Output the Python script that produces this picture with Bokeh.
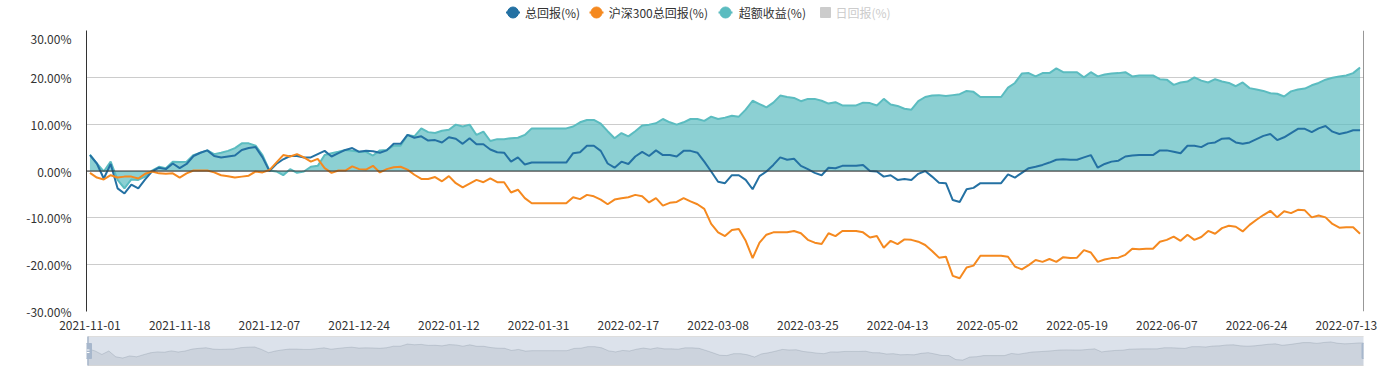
import pandas as pd
from bokeh.plotting import figure
from bokeh.layouts import column
from bokeh.models import Range1d, FixedTicker, PrintfTickFormatter, Span
from bokeh.core.properties import value
from bokeh.embed import file_html
from bokeh.resources import INLINE

# ---------------- data ----------------
dates = [d.strftime("%Y-%m-%d") for d in pd.bdate_range("2021-11-01", periods=185)]

total_return = [
    3.4, 1.6, -1.6, 1.5, -3.7, -4.8, -2.9, -3.7, -1.8, -0.1,
    0.7, 0.4, 1.6, 0.6, 1.5, 3.2, 3.9, 4.4, 3.2, 2.9,
    3.1, 3.3, 4.5, 4.9, 5.1, 2.9, 0.0, 1.5, 2.5, 3.2,
    3.2, 2.9, 2.9, 3.6, 4.3, 3.1, 3.8, 4.5, 4.9, 4.1,
    4.3, 4.2, 3.9, 4.4, 5.8, 5.8, 7.7, 7.1, 7.4, 6.5,
    6.6, 6.1, 7.2, 6.9, 5.8, 7.0, 5.7, 5.7, 4.6, 4.0,
    3.9, 2.0, 2.9, 1.4, 1.8, 1.8, 1.8, 1.8, 1.8, 1.8,
    3.8, 4.0, 5.4, 5.4, 4.3, 1.6, 0.7, 2.0, 1.5, 3.1,
    4.1, 3.2, 4.4, 3.4, 3.4, 3.1, 4.3, 4.3, 3.9, 2.0,
    -0.1, -2.3, -2.6, -0.9, -0.9, -1.9, -3.9, -1.1, -0.1, 1.3,
    2.9, 2.4, 2.6, 1.1, 0.4, -0.4, -0.9, 0.7, 0.6, 1.1,
    1.1, 1.1, 1.3, 0.0, -0.1, -1.2, -0.9, -1.9, -1.7, -1.9,
    -0.6, 0.0, -1.2, -2.5, -2.6, -6.2, -6.6, -3.9, -3.6, -2.6,
    -2.6, -2.6, -2.6, -0.7, -1.4, -0.4, 0.6, 0.9, 1.3, 1.8,
    2.4, 2.5, 2.4, 2.4, 2.9, 3.4, 0.7, 1.5, 2.0, 2.2,
    3.1, 3.3, 3.4, 3.4, 3.4, 4.4, 4.4, 4.1, 3.8, 5.4,
    5.4, 5.1, 5.9, 6.1, 6.9, 7.0, 6.1, 5.8, 6.1, 6.8,
    7.5, 7.9, 6.6, 7.2, 8.1, 9.0, 9.0, 8.3, 9.1, 9.6,
    8.4, 7.9, 8.2, 8.7, 8.7,
]

hs300_return = [
    -0.4, -1.4, -1.8, -0.9, -1.4, -1.2, -1.2, -1.6, -0.6, -0.1,
    -0.5, -0.6, -0.5, -1.4, -0.5, 0.1, 0.1, 0.1, -0.3, -0.9,
    -1.1, -1.4, -1.2, -1.0, -0.1, -0.3, 0.2, 1.8, 3.4, 3.1,
    3.6, 2.9, 2.0, 2.6, 0.6, -0.4, 0.1, 0.1, 1.0, 0.4,
    0.3, 1.1, -0.3, 0.4, 0.8, 0.9, 0.3, -0.8, -1.7, -1.7,
    -1.3, -2.2, -1.1, -2.6, -3.5, -2.7, -1.9, -2.4, -1.6, -2.4,
    -2.4, -4.6, -4.0, -5.8, -6.9, -6.9, -6.9, -6.9, -6.9, -6.9,
    -5.6, -6.0, -5.1, -5.4, -6.1, -7.1, -6.1, -5.8, -5.6, -5.1,
    -5.4, -6.7, -5.8, -7.4, -6.8, -6.6, -5.8, -6.5, -7.1, -8.1,
    -11.3, -13.1, -13.9, -12.6, -12.4, -14.9, -18.6, -15.3, -13.6, -13.1,
    -13.1, -13.1, -12.8, -13.3, -14.7, -15.3, -15.6, -13.3, -13.9, -12.8,
    -12.8, -12.8, -13.1, -14.2, -13.9, -16.4, -14.9, -15.6, -14.6, -14.7,
    -15.1, -15.8, -17.1, -18.5, -18.3, -22.4, -22.9, -20.6, -20.2, -18.1,
    -18.1, -18.1, -18.1, -18.3, -20.4, -21.0, -20.1, -19.0, -19.4, -18.8,
    -19.4, -18.4, -18.6, -18.5, -16.9, -17.4, -19.4, -18.9, -18.6, -18.5,
    -17.9, -16.6, -16.7, -16.6, -16.6, -15.1, -14.7, -14.0, -14.9, -13.6,
    -14.7, -14.1, -12.8, -13.4, -12.2, -11.7, -11.9, -12.9, -11.5, -10.4,
    -9.4, -8.5, -9.9, -8.6, -9.0, -8.3, -8.4, -9.9, -9.5, -9.9,
    -11.3, -12.1, -12.0, -12.0, -13.4,
]

excess_return = [
    3.5, 1.6, -0.1, 2.0, -1.9, -3.7, -1.8, -1.9, -1.2, 0.1,
    0.9, 0.6, 2.0, 1.9, 2.0, 3.4, 3.9, 4.4, 3.6, 3.9,
    4.3, 4.9, 5.9, 5.9, 5.4, 3.4, 0.1, -0.1, -0.9, 0.4,
    -0.4, -0.1, 0.9, 1.1, 3.4, 3.8, 4.1, 4.5, 4.3, 4.1,
    4.1, 3.3, 4.4, 4.5, 5.4, 5.4, 7.7, 7.4, 9.1, 8.3,
    8.1, 8.6, 8.8, 9.9, 9.5, 9.9, 7.7, 8.4, 6.4, 6.8,
    6.8, 7.0, 7.1, 7.7, 9.1, 9.1, 9.1, 9.1, 9.1, 9.1,
    9.5, 10.4, 10.9, 10.9, 10.1, 8.5, 7.0, 8.1, 7.4, 8.5,
    9.7, 9.9, 10.2, 11.1, 10.4, 9.9, 10.4, 11.1, 11.1, 10.7,
    11.6, 11.1, 11.4, 11.8, 11.6, 13.1, 15.0, 14.3, 13.6, 14.6,
    16.1, 15.8, 15.6, 14.9, 15.4, 15.4, 15.0, 14.4, 14.7, 14.0,
    14.0, 14.0, 14.6, 14.5, 14.0, 15.4, 14.2, 13.9, 13.3, 13.1,
    14.9, 15.8, 16.1, 16.2, 16.0, 16.2, 16.4, 17.1, 16.9, 15.8,
    15.8, 15.8, 15.8, 17.8, 18.8, 20.8, 20.9, 20.2, 20.9, 20.9,
    21.9, 21.1, 21.1, 21.1, 20.0, 21.1, 20.2, 20.6, 20.8, 20.9,
    21.1, 20.2, 20.4, 20.4, 20.4, 19.6, 19.5, 18.4, 18.9, 19.1,
    20.0, 19.3, 18.9, 19.6, 19.1, 18.8, 18.1, 18.9, 17.7, 17.4,
    17.1, 16.6, 16.5, 15.9, 17.0, 17.4, 17.6, 18.3, 18.8, 19.5,
    19.9, 20.2, 20.4, 20.9, 22.1,
]

series_names = ["总回报(%)", "沪深300总回报(%)", "超额收益(%)", "日回报(%)"]
y_ticks = [-30, -20, -10, 0, 10, 20, 30]
label_every = 13

# ---------------- style / layout ----------------
FONT = "Noto Sans CJK SC"
C_BLUE = "#2471a3"
C_ORANGE = "#f5891f"
C_TEAL = "#5bbcc0"
TEXT = "#333333"
W = 1390
FRAME_L, FRAME_R = 86, 1363          # plot frame left/right (page px)
BL, BR = FRAME_L, W - FRAME_R        # borders shared by all stacked figures
idx = list(range(len(dates)))


def bare(fig):
    fig.axis.visible = False
    fig.grid.visible = False
    fig.outline_line_color = None
    fig.background_fill_color = None
    fig.border_fill_color = None


# ---------------- legend strip ----------------
LH = 29
leg = figure(width=W, height=LH, x_range=Range1d(FRAME_L, FRAME_R), y_range=Range1d(LH, 0),
             output_backend="svg", toolbar_location=None,
             min_border_left=BL, min_border_right=BR, min_border_top=0, min_border_bottom=0)
bare(leg)

ly = 12
icon_x = [512.5, 596.0, 725.0]
text_x = [524.5, 608.3, 738.3]
cols = [C_BLUE, C_ORANGE, C_TEAL]
for cx, tx, c, name in zip(icon_x, text_x, cols, series_names[:3]):
    leg.segment(x0=[cx - 7], y0=[ly], x1=[cx + 7], y1=[ly], line_color=c, line_width=2)
    leg.scatter(x=[cx], y=[ly], size=11, marker="circle", fill_color=c, line_color=c)
    leg.text(x=[tx], y=[ly], text=[name], text_font=value(FONT), text_font_size="12px",
             text_color=TEXT, text_baseline="middle", text_align="left")
leg.quad(left=[820], right=[830], top=[ly - 5], bottom=[ly + 5], fill_color="#cccccc",
         line_color="#cccccc")
leg.text(x=[835], y=[ly], text=[series_names[3]], text_font=value(FONT), text_font_size="12px",
         text_color="#cccccc", text_baseline="middle", text_align="left")

# ---------------- main chart ----------------
p = figure(width=W, height=305, x_range=Range1d(-0.5, len(dates) - 0.5), y_range=Range1d(-30, 30),
           output_backend="svg", toolbar_location=None,
           min_border_left=BL, min_border_right=BR, min_border_top=1, min_border_bottom=23)
p.outline_line_color = None
p.background_fill_color = "white"
p.border_fill_color = "white"
p.xgrid.visible = False
p.ygrid.ticker = FixedTicker(ticks=y_ticks)
p.ygrid.grid_line_color = "#cccccc"
p.ygrid.grid_line_width = 1

p.yaxis.ticker = FixedTicker(ticks=y_ticks)
p.yaxis.formatter = PrintfTickFormatter(format="%.2f%%")
p.yaxis.axis_line_color = "#333333"
p.yaxis.major_tick_line_color = None
p.yaxis.minor_tick_line_color = None
p.yaxis.major_label_text_font = FONT
p.yaxis.major_label_text_font_size = "12px"
p.yaxis.major_label_text_color = TEXT
p.yaxis.major_label_standoff = 9

x_ticks = list(range(0, len(dates), label_every))
p.xaxis.ticker = FixedTicker(ticks=x_ticks)
p.xaxis.major_label_overrides = {t: dates[t] for t in x_ticks}
p.xaxis.axis_line_color = None
p.xaxis.major_tick_line_color = None
p.xaxis.minor_tick_line_color = None
p.xaxis.major_label_text_font = FONT
p.xaxis.major_label_text_font_size = "12px"
p.xaxis.major_label_text_color = TEXT
p.xaxis.major_label_standoff = 3

p.varea(x=idx, y1=[0] * len(idx), y2=excess_return, fill_color=C_TEAL, fill_alpha=0.7)
p.line(x=idx, y=excess_return, line_color=C_TEAL, line_width=2)
p.line(x=idx, y=total_return, line_color=C_BLUE, line_width=2)
p.line(x=idx, y=hs300_return, line_color=C_ORANGE, line_width=2)

p.add_layout(Span(location=0, dimension="width", line_color="#333333", line_width=1))
p.add_layout(Span(location=len(dates) - 0.5, dimension="height", line_color="#333333", line_width=1))

# ---------------- data-zoom slider ----------------
SH = 34
band_l, band_r, band_t, band_b = 87.5, 1365, 2, 31
s = figure(width=W, height=SH, x_range=Range1d(FRAME_L, FRAME_R), y_range=Range1d(SH, 0),
           output_backend="svg", toolbar_location=None,
           min_border_left=BL, min_border_right=BR, min_border_top=0, min_border_bottom=0)
bare(s)

n = len(dates)
kx = (band_r - band_l) / (n - 1)
lo0, hi0 = min(total_return), max(total_return)
off = (hi0 - lo0) * 0.3
lo, hi = lo0 - off, hi0 + off
ky = (hi - lo) / (band_b - band_t)
s.extra_x_ranges = {"sx": Range1d((FRAME_L - band_l) / kx, (FRAME_R - band_l) / kx)}
s.extra_y_ranges = {"sy": Range1d(lo - (SH - band_b) * ky, hi + band_t * ky)}

s.quad(left=[band_l], right=[band_r], top=[band_t], bottom=[band_b],
       fill_color="#a7b7cc", fill_alpha=0.4, line_color="#dddddd", line_width=1)
s.varea(x=idx, y1=[lo] * n, y2=total_return, x_range_name="sx", y_range_name="sy",
        fill_color="#2f4554", fill_alpha=0.09)
s.line(x=idx, y=total_return, x_range_name="sx", y_range_name="sy",
       line_color="#2f4554", line_alpha=0.3, line_width=0.5)
for hx in (band_l, band_r):
    s.segment(x0=[hx], y0=[band_t], x1=[hx], y1=[band_b], line_color="#a7b7cc", line_width=1.5)
    s.quad(left=[hx - 3.5], right=[hx + 3.5], top=[band_t + 7], bottom=[band_b - 7],
           fill_color="#a7b7cc", line_color="#a7b7cc")
    s.segment(x0=[hx - 1.5, hx - 1.5], y0=[15.5, 18], x1=[hx + 1.5, hx + 1.5], y1=[15.5, 18],
              line_color="white", line_width=1)

layout = column(leg, p, s, spacing=0)
open("out.html", "w").write(file_html(layout, INLINE))
